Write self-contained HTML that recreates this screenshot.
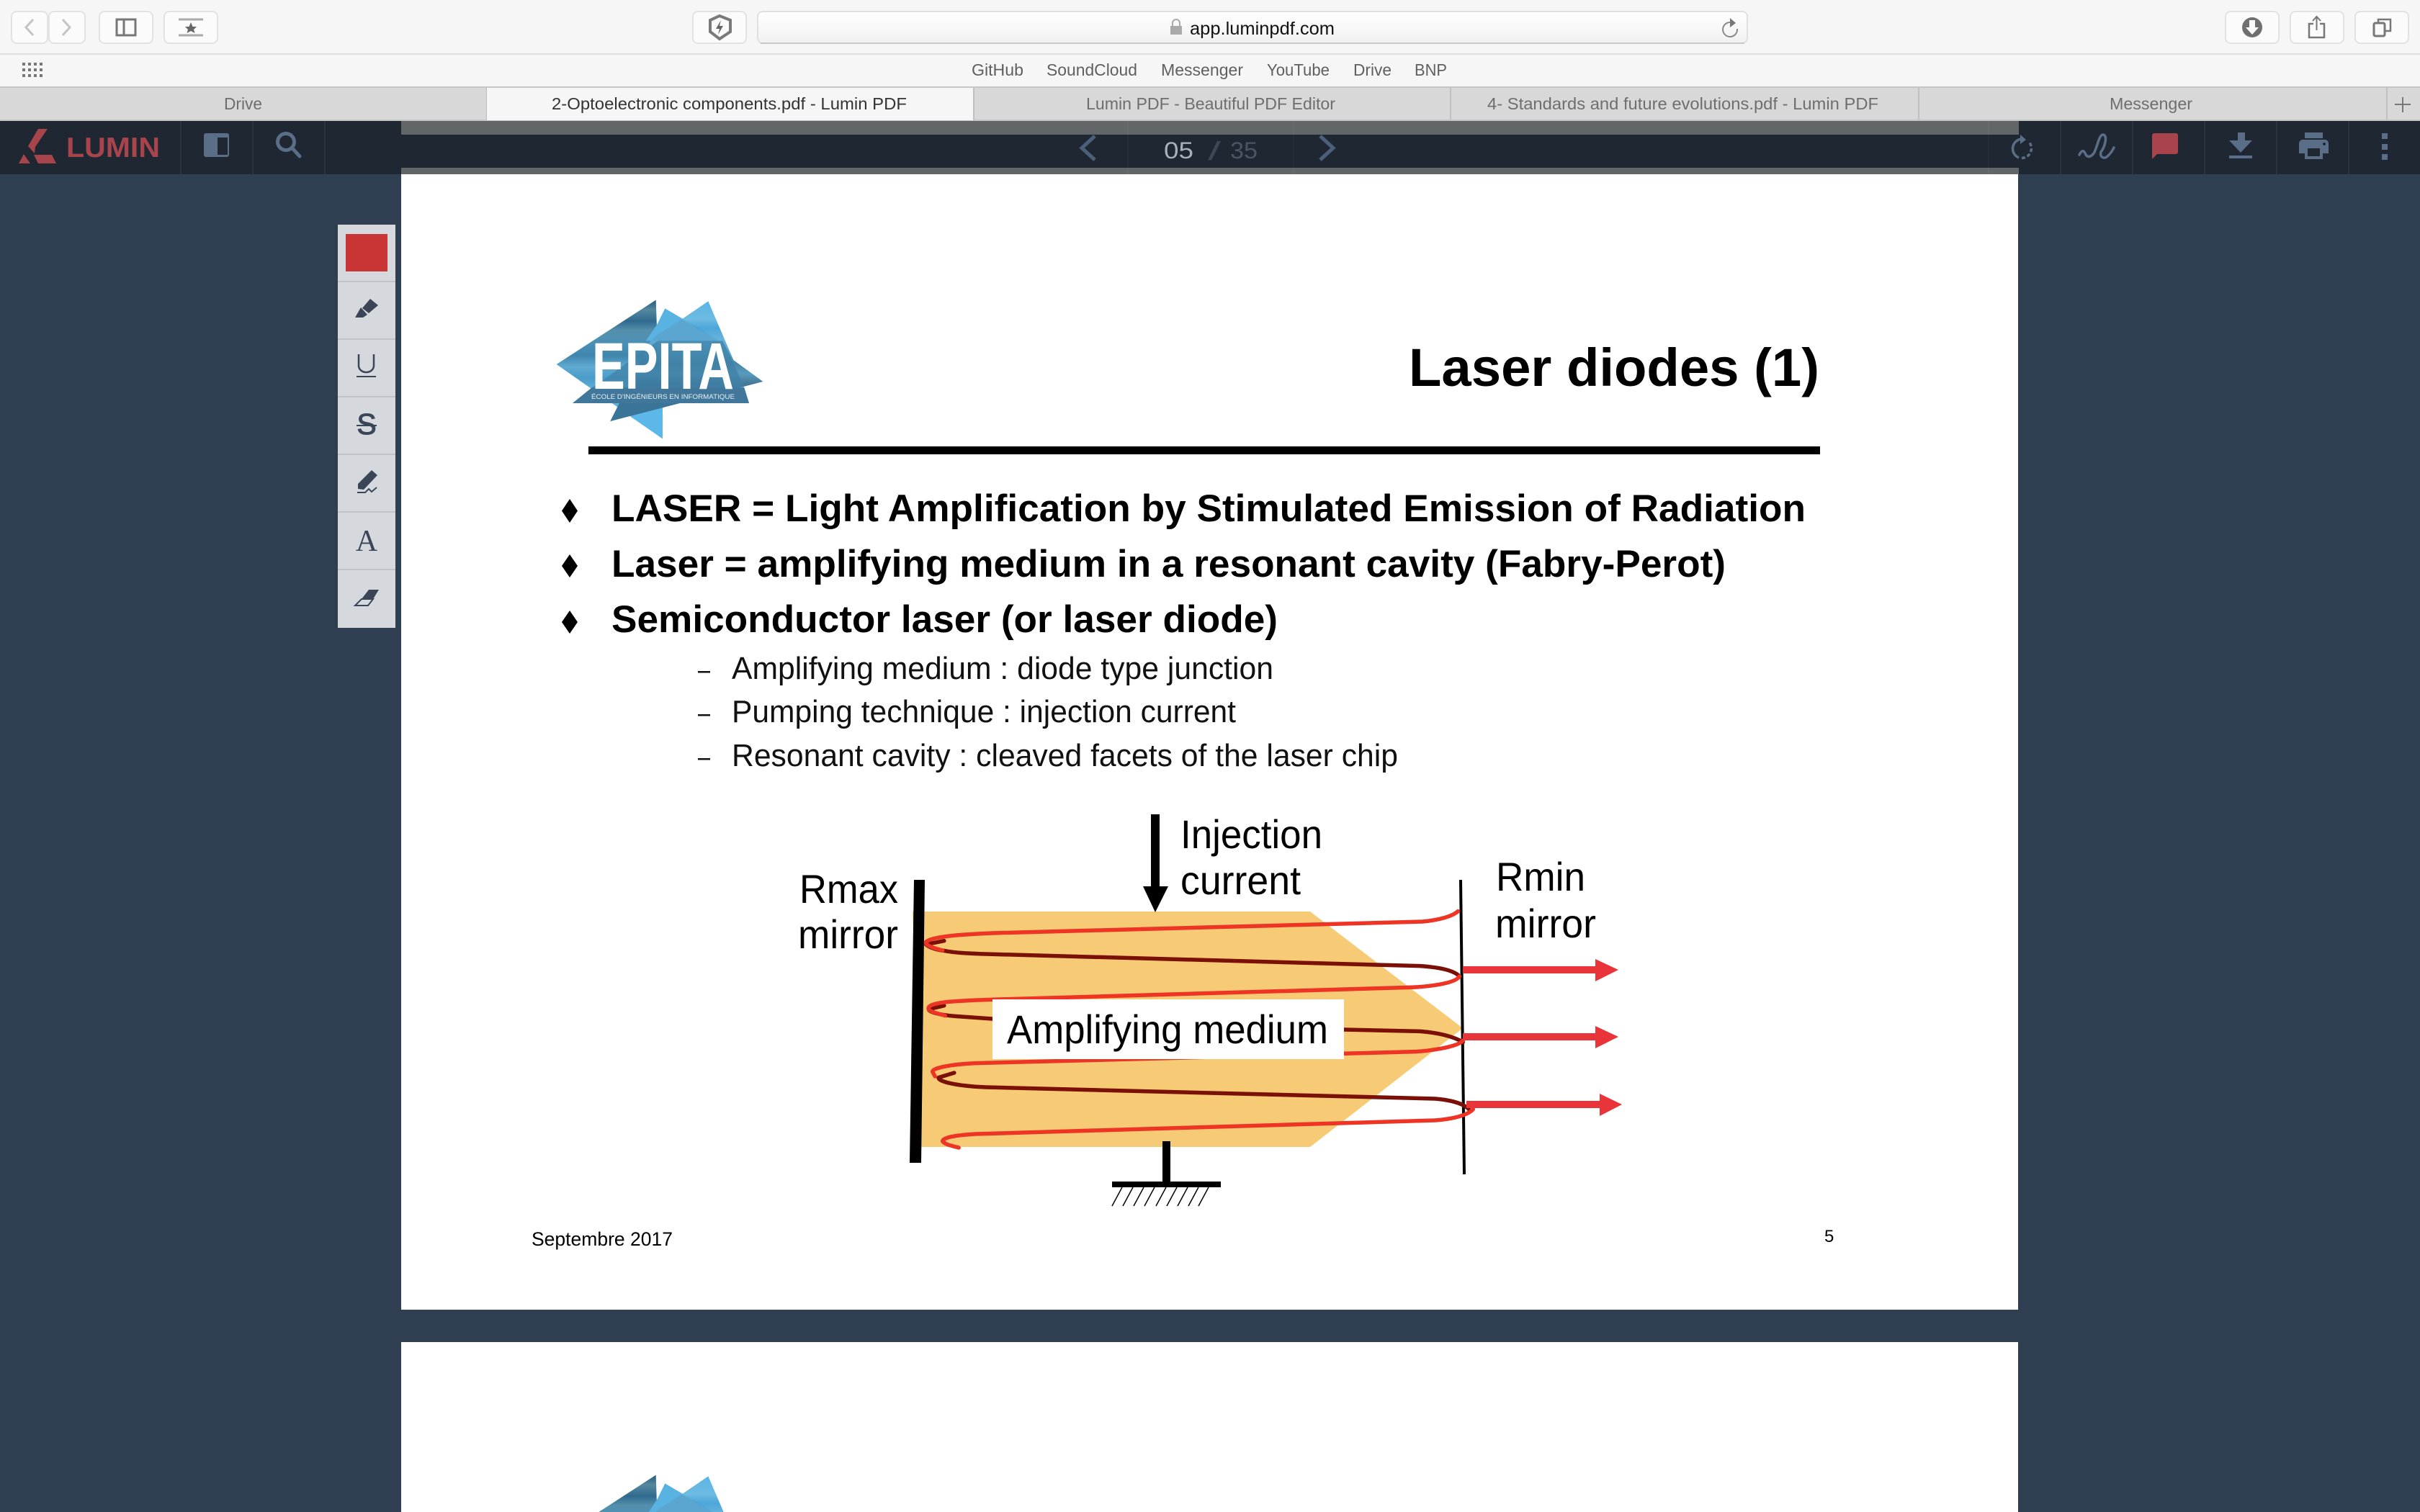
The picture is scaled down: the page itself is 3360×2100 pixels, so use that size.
<!DOCTYPE html>
<html lang="en">
<head>
<meta charset="utf-8">
<title>Laser diodes - Lumin PDF</title>
<style>
html,body{margin:0;padding:0;width:3360px;height:2100px;overflow:hidden;background:#2f3e50}
svg{display:block}
text{font-family:"Liberation Sans",sans-serif}
.book{font-size:23px;fill:#5f5f5f}
.tab{font-size:23px;fill:#6e6e6e}
.slide-b{font-size:53px;font-weight:bold;fill:#000}
.slide-s{font-size:44px;fill:#111}
.lab{font-size:56px;fill:#000}
.btn{fill:#fbfbfb;stroke:#e2e2e2;stroke-width:2}
.ic{fill:none;stroke:#777;stroke-width:3}
.sep{stroke:#29333f;stroke-width:2}
.tsep{fill:#c0c3c7}
.ti{fill:#3a4658}
.ln{fill:none;stroke-width:5.5;vector-effect:non-scaling-stroke;stroke-linecap:round;stroke-linejoin:round}
.nav{fill:none;stroke:#4c607a;stroke-width:5}
.lic{fill:#5a6f87}
</style>
</head>
<body>
<svg width="3360" height="2100" viewBox="0 0 3360 2100" xmlns="http://www.w3.org/2000/svg">
<defs>
<linearGradient id="urlg" x1="0" y1="0" x2="0" y2="1"><stop offset="0" stop-color="#ffffff"/><stop offset="1" stop-color="#f1f1f1"/></linearGradient>
<linearGradient id="dk" gradientUnits="userSpaceOnUse" x1="0" y1="20" x2="0" y2="600">
<stop offset="0" stop-color="#25597a"/><stop offset=".07" stop-color="#55889f"/><stop offset=".15" stop-color="#2f6a8e"/><stop offset=".22" stop-color="#5590ad"/><stop offset=".32" stop-color="#4a8fb5"/><stop offset=".4" stop-color="#3f86ad"/><stop offset=".48" stop-color="#60aad2"/><stop offset=".56" stop-color="#4a9cc8"/><stop offset=".64" stop-color="#5fb0da"/><stop offset="1" stop-color="#55b4e6"/></linearGradient>
<linearGradient id="lt" gradientUnits="userSpaceOnUse" x1="0" y1="25" x2="0" y2="530">
<stop offset="0" stop-color="#4fb0e2"/><stop offset=".15" stop-color="#63b7e0"/><stop offset=".22" stop-color="#42a0d6"/><stop offset=".32" stop-color="#5fb0da"/><stop offset=".42" stop-color="#4d9ec8"/><stop offset=".52" stop-color="#3f7fa6"/><stop offset=".6" stop-color="#4e94b8"/><stop offset=".68" stop-color="#3a6f92"/><stop offset="1" stop-color="#3a7497"/></linearGradient>
</defs>

<!-- Safari chrome -->
<rect x="0" y="0" width="3360" height="168" fill="#f6f6f6"/>
<rect x="0" y="74" width="3360" height="2" fill="#e0e0e0"/>
<rect x="0" y="120" width="3360" height="2" fill="#c6c6c6"/>
<rect x="16" y="16" width="50" height="44" rx="7" class="btn"/>
<polyline points="46,27 36,38 46,49" fill="none" stroke="#c4c4c4" stroke-width="3"/>
<rect x="68" y="16" width="50" height="44" rx="7" class="btn"/>
<polyline points="87,27 97,38 87,49" fill="none" stroke="#c4c4c4" stroke-width="3"/>
<rect x="138" y="16" width="74" height="44" rx="7" class="btn"/>
<g><rect x="162" y="27" width="26" height="22" class="ic"/><line x1="172" y1="27" x2="172" y2="49" class="ic"/></g>
<rect x="228" y="16" width="74" height="44" rx="7" class="btn"/>
<g><line x1="248" y1="27" x2="282" y2="27" stroke="#aaa" stroke-width="3"/><line x1="248" y1="49" x2="282" y2="49" stroke="#aaa" stroke-width="3"/><polygon points="265,31 267.5,37 273,37 269,41 270.5,46 265,43 259.5,46 261,41 257,37 262.5,37" fill="#666"/></g>
<rect x="962" y="16" width="74" height="44" rx="7" class="btn"/>
<g><path d="M999 22 L1014 28 V44 L999 54 L986 44 V28 Z" fill="none" stroke="#7a7a7a" stroke-width="4"/><polygon points="1001,28 994,40 999,40 997,48 1004,36 999,36" fill="#666"/></g>
<rect x="1052" y="16" width="1374" height="44" rx="7" fill="url(#urlg)" stroke="#e0e0e0" stroke-width="2"/>
<rect x="1056" y="59" width="1366" height="2" fill="#c9c9c9"/>
<g><path d="M1628 36 V32 a5 5 0 0 1 10 0 V36" fill="none" stroke="#aaa" stroke-width="2"/><rect x="1625" y="36" width="16" height="12" fill="#aaa"/></g>
<text x="1652" y="48" font-size="25" fill="#111" textLength="201" lengthAdjust="spacingAndGlyphs">app.luminpdf.com</text>
<g><path d="M2402 31 A10 10 0 1 0 2412 40" fill="none" stroke="#888" stroke-width="2"/><polygon points="2402,25 2410,32 2402,38" fill="#777"/></g>
<rect x="3090" y="16" width="74" height="44" rx="7" class="btn"/>
<g><circle cx="3127" cy="38" r="14" fill="#707070"/><polygon points="3123,28 3131,28 3131,38 3136,38 3127,48 3118,38 3123,38" fill="#fff"/></g>
<rect x="3180" y="16" width="74" height="44" rx="7" class="btn"/>
<g><path d="M3212 33 H3206 V52 H3227 V33 H3221" fill="none" stroke="#777" stroke-width="2.5"/><line x1="3216.5" y1="24" x2="3216.5" y2="42" stroke="#777" stroke-width="2"/><polyline points="3211,29 3216.5,23 3222,29" fill="none" stroke="#777" stroke-width="2"/></g>
<rect x="3270" y="16" width="74" height="44" rx="7" class="btn"/>
<g><rect x="3296" y="32" width="15" height="18" rx="2" class="ic"/><path d="M3302 32 V27 H3319 V43 H3311" fill="none" stroke="#777" stroke-width="2.5"/></g>

<g fill="#777">
<rect x="31" y="87" width="4" height="4"/><rect x="39" y="87" width="4" height="4"/><rect x="47" y="87" width="4" height="4"/><rect x="55" y="87" width="4" height="4"/>
<rect x="31" y="95" width="4" height="4"/><rect x="39" y="95" width="4" height="4"/><rect x="47" y="95" width="4" height="4"/><rect x="55" y="95" width="4" height="4"/>
<rect x="31" y="103" width="4" height="4"/><rect x="39" y="103" width="4" height="4"/><rect x="47" y="103" width="4" height="4"/><rect x="55" y="103" width="4" height="4"/>
</g>
<text x="1349" y="105" class="book" textLength="72" lengthAdjust="spacingAndGlyphs">GitHub</text>
<text x="1453" y="105" class="book" textLength="126" lengthAdjust="spacingAndGlyphs">SoundCloud</text>
<text x="1612" y="105" class="book" textLength="114" lengthAdjust="spacingAndGlyphs">Messenger</text>
<text x="1759" y="105" class="book" textLength="87" lengthAdjust="spacingAndGlyphs">YouTube</text>
<text x="1879" y="105" class="book" textLength="53" lengthAdjust="spacingAndGlyphs">Drive</text>
<text x="1964" y="105" class="book" textLength="45" lengthAdjust="spacingAndGlyphs">BNP</text>

<!-- Tabs -->
<rect x="0" y="122" width="3360" height="44" fill="#d8d8d8"/>
<rect x="0" y="166" width="3360" height="2" fill="#c6c6c6"/>
<rect x="675" y="122" width="676" height="45" fill="#f6f6f6"/>
<rect x="675" y="122" width="1" height="45" fill="#bdbdbd"/>
<rect x="1351" y="122" width="2" height="45" fill="#c0c0c0"/>
<rect x="2013" y="122" width="2" height="45" fill="#c0c0c0"/>
<rect x="2663" y="122" width="2" height="45" fill="#c0c0c0"/>
<rect x="3313" y="122" width="2" height="45" fill="#c0c0c0"/>
<text x="311" y="152" class="tab" textLength="53" lengthAdjust="spacingAndGlyphs">Drive</text>
<text x="766" y="152" class="tab" style="fill:#333" textLength="493" lengthAdjust="spacingAndGlyphs">2-Optoelectronic components.pdf - Lumin PDF</text>
<text x="1508" y="152" class="tab" textLength="346" lengthAdjust="spacingAndGlyphs">Lumin PDF - Beautiful PDF Editor</text>
<text x="2065" y="152" class="tab" textLength="543" lengthAdjust="spacingAndGlyphs">4- Standards and future evolutions.pdf - Lumin PDF</text>
<text x="2929" y="152" class="tab" textLength="115" lengthAdjust="spacingAndGlyphs">Messenger</text>
<g><line x1="3336" y1="135" x2="3336" y2="156" stroke="#777" stroke-width="2"/><line x1="3325" y1="145" x2="3347" y2="145" stroke="#777" stroke-width="2"/></g>

<!-- Viewer background -->
<rect x="0" y="168" width="3360" height="1932" fill="#2f3e50"/>
<rect x="0" y="168" width="3360" height="74" fill="#1f2733"/>

<!-- Pages -->
<rect x="557" y="242" width="2245" height="1577" fill="#fff"/>
<rect x="557" y="1864" width="2245" height="236" fill="#fff"/>

<rect x="557" y="168" width="2246" height="19" fill="#636669"/>
<rect x="557" y="233" width="2246" height="9" fill="#636669"/>

<g>
<line x1="251" y1="168" x2="251" y2="242" class="sep"/><line x1="351" y1="168" x2="351" y2="242" class="sep"/><line x1="451" y1="168" x2="451" y2="242" class="sep"/>
<line x1="1566" y1="168" x2="1566" y2="242" stroke="#fff" stroke-opacity=".06" stroke-width="1"/><line x1="1796" y1="168" x2="1796" y2="242" stroke="#fff" stroke-opacity=".06" stroke-width="1"/><line x1="2761" y1="168" x2="2761" y2="242" stroke="#fff" stroke-opacity=".06" stroke-width="1"/>
<line x1="2861" y1="168" x2="2861" y2="242" class="sep"/><line x1="2961" y1="168" x2="2961" y2="242" class="sep"/><line x1="3061" y1="168" x2="3061" y2="242" class="sep"/><line x1="3161" y1="168" x2="3161" y2="242" class="sep"/><line x1="3261" y1="168" x2="3261" y2="242" class="sep"/>
</g>

<g fill="#a8444b">
<polygon points="53,179 66,179 49,204 48,213 39,203"/>
<polygon points="47,215 72,215 78,227 53,227"/>
<polygon points="33,214 42,227 26,227"/>
</g>
<text x="92" y="218" font-size="39" font-weight="bold" fill="#a8444b" textLength="130" lengthAdjust="spacingAndGlyphs">LUMIN</text>
<g><rect x="283" y="185" width="35" height="33" rx="3" class="lic"/><rect x="302" y="191" width="14" height="24" fill="#1f2733"/></g>
<g><circle cx="397" cy="197" r="11.500" fill="none" stroke="#5a6f87" stroke-width="5"/><line x1="406" y1="206" x2="416" y2="217" stroke="#5a6f87" stroke-width="5" stroke-linecap="round"/></g>

<polyline points="1520,189 1502,205.500 1520,222" class="nav"/>
<text x="1616" y="220" font-size="32" fill="#a9b0b9" textLength="41" lengthAdjust="spacingAndGlyphs">05</text>
<text x="1677" y="222" font-size="36" fill="#3d4855" textLength="18" lengthAdjust="spacingAndGlyphs">/</text>
<text x="1708" y="220" font-size="32" fill="#4a5562" textLength="38" lengthAdjust="spacingAndGlyphs">35</text>
<polyline points="1833,189 1851,205.500 1833,222" class="nav"/>

<g><path d="M2807 193 A13.500 13.500 0 0 0 2803 219" fill="none" stroke="#5a6f87" stroke-width="3.500"/><path d="M2807 219.500 A13.500 13.500 0 0 0 2817 197" fill="none" stroke="#5a6f87" stroke-width="3.500" stroke-dasharray="5 3"/><polygon points="2805,187 2813,194 2805,200" fill="#5a6f87"/></g>
<path d="M2887 215 C2890 209 2893 208 2895 213 C2898 220 2903 218 2907 213 C2912 205 2914 187 2920 187 C2927 188 2922 205 2917 211 C2915 218 2921 221 2925 218 C2930 214 2933 209 2935 205" fill="none" stroke="#5a6f87" stroke-width="3.500" stroke-linecap="round"/>
<path d="M2991 185 H3021 a3 3 0 0 1 3 3 V211 a3 3 0 0 1 -3 3 H2995 L2988 221 V188 a3 3 0 0 1 3 -3 Z" fill="#a8444b"/>
<g fill="#5a6f87"><polygon points="3107,184 3117,184 3117,195 3127,195 3111,212 3095,195 3107,195"/><rect x="3095" y="216" width="32" height="4"/></g>
<g><rect x="3200" y="184" width="25" height="8" fill="#5a6f87"/><path d="M3197 194 H3228 a5 5 0 0 1 5 5 V213 H3192 V199 a5 5 0 0 1 5 -5 Z" fill="#5a6f87"/><rect x="3200" y="203" width="25" height="18" fill="#5a6f87"/><rect x="3204" y="206" width="17" height="11" fill="#1f2733"/><circle cx="3227" cy="200" r="2" fill="#1f2733"/></g>
<g fill="#5a6f87"><rect x="3307" y="185" width="8" height="8"/><rect x="3307" y="200" width="8" height="8"/><rect x="3307" y="214" width="8" height="8"/></g>

<!-- Annotation toolbar -->
<rect x="469" y="312" width="80" height="560" fill="#d5d8dc"/>
<rect x="480" y="325" width="58" height="52" fill="#c93535"/>
<g>
<rect x="469" y="390" width="80" height="2" class="tsep"/><rect x="469" y="470" width="80" height="2" class="tsep"/><rect x="469" y="550" width="80" height="2" class="tsep"/><rect x="469" y="630" width="80" height="2" class="tsep"/><rect x="469" y="710" width="80" height="2" class="tsep"/><rect x="469" y="790" width="80" height="2" class="tsep"/>
</g>
<g><polygon points="514,415 525,424 512,435 503,428" class="ti"/><polygon points="501,427 510,437 504,441 493,441" class="ti"/></g>
<g><path d="M498 492 V508 a10.500 9 0 0 0 21 0 V492" fill="none" stroke="#3a4658" stroke-width="2.500"/><rect x="495" y="522" width="27" height="2" class="ti"/></g>
<g><text x="509" y="603" text-anchor="middle" font-size="41" fill="#3a4658" stroke="#3a4658" stroke-width="1">S</text><rect x="495" y="590" width="28" height="2" class="ti"/></g>
<g><polygon points="516,653 524,660 505,680 497,679 497,672" class="ti"/><path d="M496 684 H507 L512 679 L516 683 L523 677" fill="none" stroke="#3a4658" stroke-width="2"/></g>
<text x="509" y="765" text-anchor="middle" font-size="42" fill="#3a4658" style='font-family:"Liberation Serif",serif'>A</text>
<g><polygon points="512,819 526,819 518,832 502,832" class="ti"/><polygon points="502,832 518,832 511,841 493,841" fill="none" stroke="#3a4658" stroke-width="2"/></g>

<!-- Slide -->
<g transform="translate(770,410) scale(0.33333)">
<polygon points="8,288 422,20 430,250 450,470 450,598" fill="url(#dk)"/>
<polygon points="460,55 428,120 380,190 690,190" fill="#58b2e2"/>
<polygon points="640,25 530,100 400,190 232,525 868,360 745,270" fill="url(#lt)" fill-opacity=".94"/>
<polygon points="530,100 430,165 400,190 680,190" fill="#5aa6d0"/>
<polygon points="430,190 200,355 155,385 75,450 810,450 790,385 730,250 700,190" fill="#3f7fa5" fill-opacity=".72"/>
<polygon points="75,450 810,450 790,385 155,385" fill="#41779a"/>
<polygon points="270,450 232,525 520,450" fill="#3a7497"/>
<polygon points="315,505 450,470 450,598" fill="#5cb8e8"/>
</g>
<text x="822" y="540" font-size="92" font-weight="bold" fill="#fff" textLength="197" lengthAdjust="spacingAndGlyphs">EPITA</text>
<text x="821" y="554" font-size="9" fill="#e6f1f6" textLength="199" lengthAdjust="spacingAndGlyphs">ÉCOLE D'INGÉNIEURS EN INFORMATIQUE</text>

<text x="1956" y="536" font-size="74" font-weight="bold" fill="#000" textLength="570" lengthAdjust="spacingAndGlyphs">Laser diodes (1)</text>
<rect x="817" y="620" width="1710" height="11" fill="#000"/>

<polygon points="791,693 802,709.500 791,726 780,709.500" fill="#000"/>
<polygon points="791,770 802,786 791,802 780,786" fill="#000"/>
<polygon points="791,848 802,864 791,880 780,864" fill="#000"/>
<text x="849" y="724" class="slide-b" textLength="1658" lengthAdjust="spacingAndGlyphs">LASER = Light Amplification by Stimulated Emission of Radiation</text>
<text x="849" y="801" class="slide-b" textLength="1547" lengthAdjust="spacingAndGlyphs">Laser = amplifying medium in a resonant cavity (Fabry-Perot)</text>
<text x="849" y="878" class="slide-b" textLength="925" lengthAdjust="spacingAndGlyphs">Semiconductor laser (or laser diode)</text>

<rect x="969" y="932" width="17" height="2.500" fill="#111"/>
<rect x="969" y="992" width="17" height="2.500" fill="#111"/>
<rect x="969" y="1053" width="17" height="2.500" fill="#111"/>
<text x="1016" y="943" class="slide-s" textLength="752" lengthAdjust="spacingAndGlyphs">Amplifying medium : diode type junction</text>
<text x="1016" y="1003" class="slide-s" textLength="700" lengthAdjust="spacingAndGlyphs">Pumping technique : injection current</text>
<text x="1016" y="1064" class="slide-s" textLength="925" lengthAdjust="spacingAndGlyphs">Resonant cavity : cleaved facets of the laser chip</text>

<!-- Diagram -->
<polygon points="1267,1266 1819,1266 2031,1428 1819,1593 1279,1593" fill="#f7cb75"/>
<polygon points="1269,1222 1284,1222 1279,1615 1263,1615" fill="#000"/>
<line x1="2028" y1="1222" x2="2033" y2="1631" stroke="#000" stroke-width="4"/>

<g transform="translate(1200,1200) scale(0.7015,0.33333)">
<path class="ln" stroke="#7a1008" d="M158 320 L122 335 C130 350 145 358 160 362 C180 370 200 372 240 375 L1100 425 C1150 432 1170 450 1178 468"/>
<path class="ln" stroke="#ee3424" d="M1175 197 C1160 225 1125 236 1105 240 L270 287 C200 292 135 300 122 325 C120 340 140 352 155 360"/>
<path class="ln" stroke="#7a1008" d="M158 590 L128 605 C125 615 150 630 180 634 L253 645 L950 690 L1100 697 C1150 705 1175 730 1185 742"/>
<path class="ln" stroke="#ee3424" d="M1178 468 C1170 500 1110 512 1080 514 L250 565 C180 570 130 575 127 600 C125 615 150 625 160 632"/>
<path class="ln" stroke="#7a1008" d="M178 870 L147 890 C145 905 180 925 240 930 L1130 978 C1170 985 1190 1005 1198 1025"/>
<path class="ln" stroke="#ee3424" d="M1185 735 C1175 765 1110 780 1090 782 L220 830 C170 835 135 850 135 865 L140 885"/>
<path class="ln" stroke="#ee3424" d="M1205 1022 C1190 1055 1150 1065 1130 1068 L220 1125 C180 1130 155 1140 155 1155 C160 1170 175 1175 187 1182"/>
</g>

<rect x="1378" y="1388" width="488" height="83" fill="#fff"/>
<text x="1398" y="1449" class="lab" textLength="446" lengthAdjust="spacingAndGlyphs">Amplifying medium</text>

<polygon points="1598,1131 1610,1131 1610,1231 1622,1231 1604,1267 1587,1231 1598,1231" fill="#000"/>
<text x="1639" y="1178" class="lab" textLength="197" lengthAdjust="spacingAndGlyphs">Injection</text>
<text x="1639" y="1242" class="lab" textLength="167" lengthAdjust="spacingAndGlyphs">current</text>
<text x="1110" y="1254" class="lab" textLength="137" lengthAdjust="spacingAndGlyphs">Rmax</text>
<text x="1108" y="1317" class="lab" textLength="139" lengthAdjust="spacingAndGlyphs">mirror</text>
<text x="2077" y="1237" class="lab" textLength="124" lengthAdjust="spacingAndGlyphs">Rmin</text>
<text x="2076" y="1302" class="lab" textLength="140" lengthAdjust="spacingAndGlyphs">mirror</text>

<polygon points="2031,1342 2215,1342 2215,1332 2247,1347 2215,1363 2215,1352 2031,1352" fill="#e9343a"/>
<polygon points="2031,1435 2215,1435 2215,1425 2247,1440 2215,1456 2215,1445 2031,1445" fill="#e9343a"/>
<polygon points="2036,1529 2221,1529 2221,1519 2252,1534 2221,1550 2221,1539 2036,1539" fill="#e9343a"/>

<g>
<rect x="1614" y="1585" width="11" height="56" fill="#000"/>
<rect x="1544" y="1641" width="151" height="8" fill="#000"/>
<g stroke="#000" stroke-width="1.500">
<line x1="1558" y1="1649" x2="1544" y2="1675"/><line x1="1573" y1="1649" x2="1559" y2="1675"/><line x1="1588" y1="1649" x2="1574" y2="1675"/><line x1="1603" y1="1649" x2="1589" y2="1675"/><line x1="1619" y1="1649" x2="1605" y2="1675"/><line x1="1634" y1="1649" x2="1620" y2="1675"/><line x1="1649" y1="1649" x2="1635" y2="1675"/><line x1="1664" y1="1649" x2="1650" y2="1675"/><line x1="1678" y1="1649" x2="1664" y2="1675"/>
</g></g>

<text x="738" y="1730" font-size="27" fill="#000" textLength="196" lengthAdjust="spacingAndGlyphs">Septembre 2017</text>
<text x="2533" y="1725" font-size="24" fill="#000">5</text>

<g transform="translate(770,2042) scale(0.33333)">
<polygon points="184,174 422,20 427,174" fill="url(#dk)"/>
<polygon points="460,55 428,120 392,174 663,174" fill="#58b2e2"/>
<polygon points="640,25 530,100 421,174 704,174" fill="url(#lt)" fill-opacity=".94"/>
<polygon points="530,100 430,165 421,174 655,174" fill="#5aa6d0"/>
</g>
</svg>
</body>
</html>
